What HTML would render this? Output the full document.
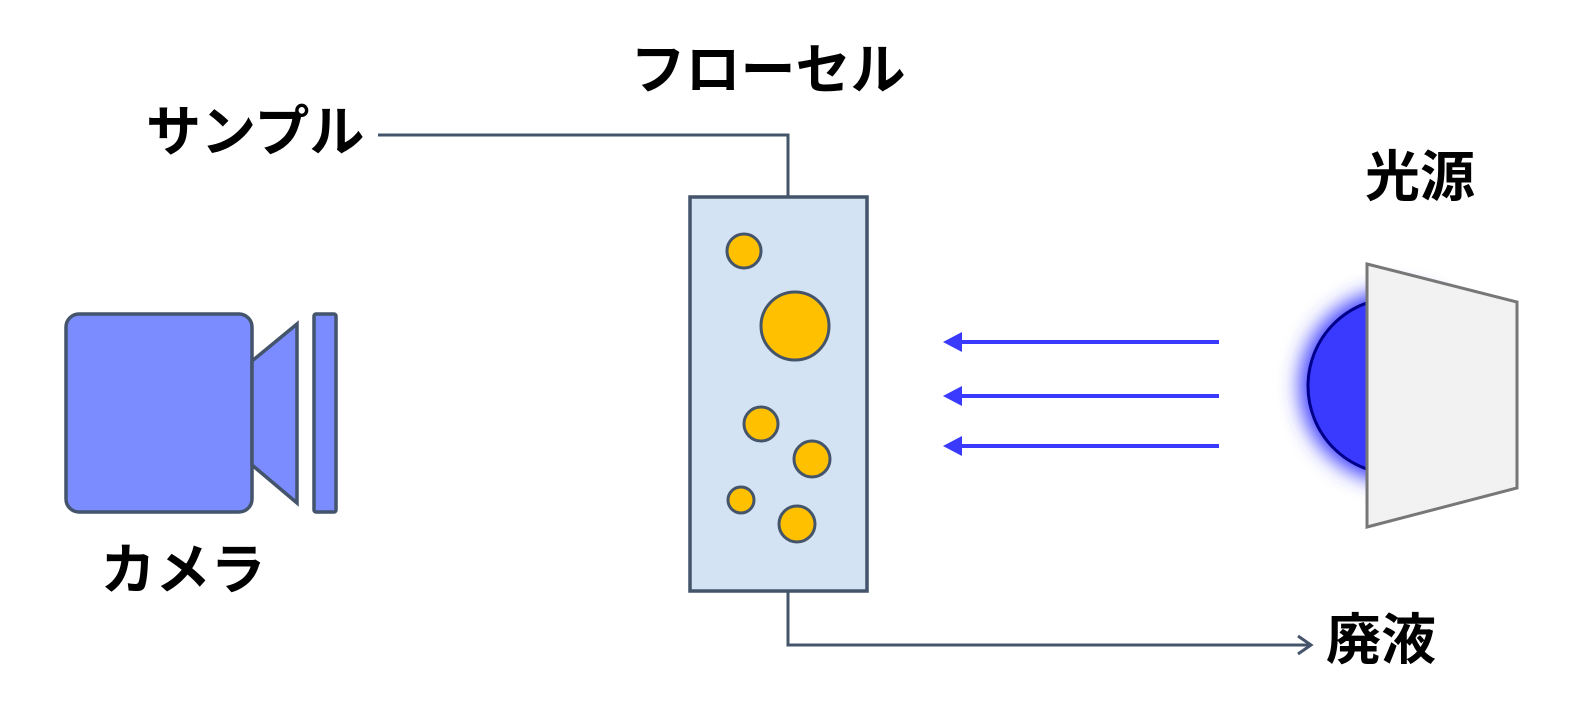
<!DOCTYPE html>
<html><head><meta charset="utf-8"><style>
html,body{margin:0;padding:0;background:#fff;}
svg{display:block;}
text{font-family:"Liberation Sans","Noto Sans CJK JP",sans-serif;font-weight:bold;font-size:55px;fill:#000;}
</style></head><body>
<svg width="1591" height="710" viewBox="0 0 1591 710" xmlns="http://www.w3.org/2000/svg">
<defs>
<filter id="glow" x="-50%" y="-50%" width="200%" height="200%"><feGaussianBlur stdDeviation="10"/></filter>
</defs>
<polyline points="378,135 788,135 788,197" fill="none" stroke="#44546a" stroke-width="3"/>
<polyline points="788,591 788,645 1310,645" fill="none" stroke="#44546a" stroke-width="3"/>
<polyline points="1298,636 1311,645 1298,654" fill="none" stroke="#44546a" stroke-width="3"/>
<rect x="690" y="197" width="177" height="394" fill="#d3e3f3" stroke="#44546a" stroke-width="3.5"/>
<g fill="#ffc000" stroke="#44546a" stroke-width="3">
<circle cx="744" cy="251" r="17"/>
<circle cx="795" cy="326" r="34"/>
<circle cx="761" cy="424" r="17"/>
<circle cx="812" cy="459" r="18"/>
<circle cx="741" cy="500" r="13"/>
<circle cx="797" cy="524" r="18"/>
</g>
<rect x="66" y="314" width="186" height="198" rx="13" fill="#7a8cff" stroke="#44546a" stroke-width="3.5"/>
<polygon points="252,361 297,324 297,503 252,465" fill="#7a8cff" stroke="#44546a" stroke-width="3.5"/>
<rect x="314" y="314" width="22" height="198" rx="2" fill="#7a8cff" stroke="#44546a" stroke-width="3.5"/>
<g stroke="#3a3aff" stroke-width="4">
<line x1="958" y1="342" x2="1219" y2="342"/>
<line x1="958" y1="396" x2="1219" y2="396"/>
<line x1="958" y1="446" x2="1219" y2="446"/>
</g>
<g fill="#3a3aff">
<polygon points="943,342 962,332 962,352"/>
<polygon points="943,396 962,386 962,406"/>
<polygon points="943,446 962,436 962,456"/>
</g>
<circle cx="1396" cy="386" r="96" fill="#3a3aff" filter="url(#glow)"/>
<circle cx="1396" cy="386" r="88" fill="#3a3aff" stroke="#00008b" stroke-width="3"/>
<polygon points="1367,264 1517,302 1517,488 1367,527" fill="#f2f2f2" stroke="#777" stroke-width="3"/>
<text x="768" y="89" text-anchor="middle">フローセル</text>
<text x="146" y="151">サンプル</text>
<text x="1420" y="196" text-anchor="middle">光源</text>
<text x="183" y="589" text-anchor="middle">カメラ</text>
<text x="1326" y="659">廃液</text>
</svg>
</body></html>
